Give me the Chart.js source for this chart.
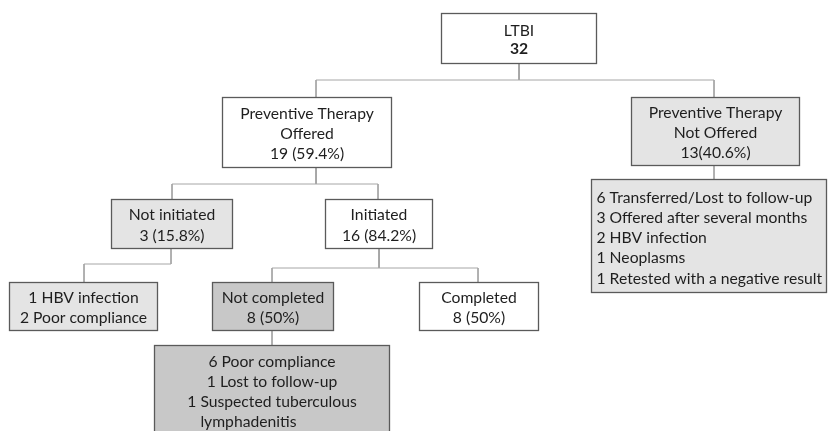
<!DOCTYPE html>
<html>
<head>
<meta charset="utf-8">
<script src="https://cdn.jsdelivr.net/npm/chart.js@4"></script>
<style>
  body { margin: 0; background: #ffffff; }
  #flow { display: block; }
</style>
</head>
<body>
<canvas id="flow" width="828" height="431"></canvas>
<script>
// node texts (the numbers of the flow chart)
const nodeNames = ["ltbi", "offered", "notOffered", "notOfferedWhy", "notInit", "init", "notInitWhy", "notDone", "done", "notDoneWhy"];
const nodeLines = [
    ["LTBI", "32"],
    ["Preventive Therapy", "Offered", "19 (59.4%)"],
    ["Preventive Therapy", "Not Offered", "13(40.6%)"],
    ["6 Transferred/Lost to follow-up", "3 Offered after several months", "2 HBV infection", "1 Neoplasms", "1 Retested with a negative result"],
    ["Not initiated", "3 (15.8%)"],
    ["Initiated", "16 (84.2%)"],
    ["1 HBV infection", "2 Poor compliance"],
    ["Not completed", "8 (50%)"],
    ["Completed", "8 (50%)"],
    ["6 Poor compliance", "1 Lost to follow-up", "1 Suspected tuberculous", "lymphadenitis"]
];
// which node hangs under which
const parentOf = [null, "ltbi", "ltbi", "notOffered", "offered", "offered", "notInit", "init", "init", "notDone"];

// layout, in chart units (left, top, right, bottom)
const boxes = [
    [441, 13, 596, 63],
    [222, 97, 391, 167],
    [631, 97, 799, 165],
    [591, 179, 826, 292],
    [111, 199, 232, 248],
    [325, 199, 432, 248],
    [9, 282, 157, 330],
    [212, 282, 333, 330],
    [419, 282, 538, 330],
    [154, 345, 389, 440]
];
const fills = ["#ffffff", "#ffffff", "#e4e4e4", "#e4e4e4", "#e4e4e4", "#ffffff", "#e4e4e4", "#c8c8c8", "#ffffff", "#c8c8c8"];
// y of the elbow line below each parent
const elbowY = { ltbi: 80, offered: 184, notOffered: null, notInit: 264, init: 268, notDone: null };
const stemX = { ltbi: 519, offered: 316, notOffered: 714, notInit: 171, init: 379, notDone: 272 };
const childX = { offered: 316, notOffered: 714, notOfferedWhy: 714, notInit: 172, init: 378, notInitWhy: 84, notDone: 272, done: 478, notDoneWhy: 272 };

function boxOf(name) {
    return boxes[nodeNames.indexOf(name)];
}

// connectors as line datasets, one per child
const connectors = [];
for (let i = 0; i < nodeNames.length; i++) {
    const p = parentOf[i];
    if (p === null) continue;
    const pb = boxOf(p);
    const cb = boxes[i];
    const cx = childX[nodeNames[i]];
    let pts;
    if (elbowY[p] === null) {
        pts = [{x: cx, y: pb[3]}, {x: cx, y: cb[1]}];
    } else {
        const ey = elbowY[p];
        pts = [{x: stemX[p], y: pb[3]}, {x: stemX[p], y: ey}, {x: cx, y: ey}, {x: cx, y: cb[1]}];
    }
    connectors.push({
        type: 'line',
        data: pts,
        borderColor: '#a6a6a6',
        borderWidth: 1,
        pointRadius: 0,
        fill: false,
        tension: 0
    });
}

const fontFam = "Lato, 'Open Sans', sans-serif";

const boxPlugin = {
    id: 'boxes',
    afterDatasetsDraw(chart) {
        const ctx = chart.ctx;
        const xs = chart.scales.x;
        const ys = chart.scales.y;
        ctx.save();
        for (let i = 0; i < boxes.length; i++) {
            const b = boxes[i];
            const l = Math.round(xs.getPixelForValue(b[0])) + 0.5;
            const r = Math.round(xs.getPixelForValue(b[2])) + 0.5;
            const t = Math.round(ys.getPixelForValue(b[1])) + 0.5;
            const bt = Math.round(ys.getPixelForValue(b[3])) + 0.5;
            ctx.fillStyle = fills[i];
            ctx.fillRect(l, t, r - l, bt - t);
            ctx.strokeStyle = '#5a5a5a';
            ctx.lineWidth = 1.3;
            ctx.strokeRect(l, t, r - l, bt - t);

            const lines = nodeLines[i];
            const name = nodeNames[i];
            const lh = name === 'ltbi' ? 18 : 20.3;
            const cx = (l + r) / 2;
            let y0;
            if (name === 'notDoneWhy') y0 = t + 16;
            else if (name === 'notOfferedWhy') y0 = t + 18;
            else y0 = (t + bt) / 2 - (lines.length - 1) * lh / 2 + 1.5;
            ctx.fillStyle = '#1e1e1e';
            ctx.textBaseline = 'middle';
            for (let k = 0; k < lines.length; k++) {
                const bold = name === 'ltbi' && k === 1;
                ctx.font = (bold ? 'bold ' : '') + '15.7px ' + fontFam;
                const y = y0 + k * lh;
                if (name === 'notOfferedWhy') {
                    ctx.textAlign = 'left';
                    ctx.fillText(lines[k], l + 5, y);
                } else if (name === 'notDoneWhy' && k === 3) {
                    // hanging indent under "Suspected"
                    const prev = lines[2];
                    const startX = cx - ctx.measureText(prev).width / 2 + ctx.measureText("1 ").width;
                    ctx.textAlign = 'left';
                    ctx.fillText(lines[k], startX, y);
                } else {
                    ctx.textAlign = 'center';
                    ctx.fillText(lines[k], cx, y);
                }
            }
        }
        ctx.restore();
    }
};

new Chart(document.getElementById('flow'), {
    type: 'scatter',
    data: { datasets: connectors },
    options: {
        responsive: false,
        animation: false,
        layout: { padding: 0 },
        plugins: { legend: { display: false }, tooltip: { enabled: false } },
        scales: {
            x: { type: 'linear', min: 0, max: 828, display: false },
            y: { type: 'linear', min: 0, max: 431, reverse: true, display: false }
        }
    },
    plugins: [boxPlugin]
});
</script>
</body>
</html>
